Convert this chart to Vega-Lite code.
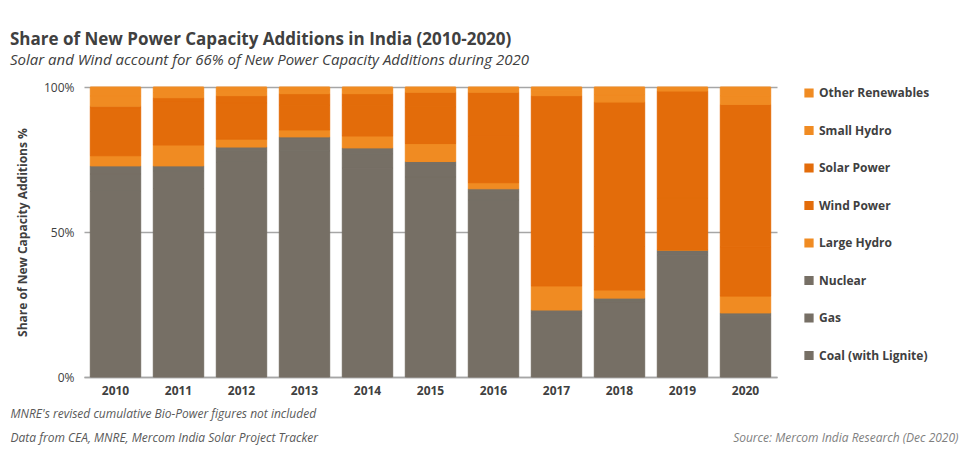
{
  "$schema": "https://vega.github.io/schema/vega-lite/v6.json",
  "width": 693,
  "height": 290,
  "autosize": "none",
  "padding": {"left": 84, "top": 87, "right": 198, "bottom": 83},
  "background": "white",
  "title": {
    "text": "Share of New Power Capacity Additions in India (2010-2020)",
    "subtitle": "Solar and Wind account for 66% of New Power Capacity Additions during 2020",
    "anchor": "start",
    "frame": "group",
    "dx": -74,
    "offset": 12,
    "font": "Open Sans",
    "fontSize": 17,
    "fontWeight": "bold",
    "color": "#404040",
    "subtitleFont": "Open Sans",
    "subtitleFontSize": 15,
    "subtitleFontStyle": "italic",
    "subtitleColor": "#404040",
    "subtitlePadding": 4
  },
  "data": {
    "values": [
      {"year": "2010", "source": "Coal (with Lignite)", "o": 1, "v": 64},
      {"year": "2010", "source": "Gas", "o": 2, "v": 6},
      {"year": "2010", "source": "Nuclear", "o": 3, "v": 2.8},
      {"year": "2010", "source": "Large Hydro", "o": 4, "v": 3.5},
      {"year": "2010", "source": "Wind Power", "o": 5, "v": 16.6},
      {"year": "2010", "source": "Solar Power", "o": 6, "v": 0.5},
      {"year": "2010", "source": "Small Hydro", "o": 7, "v": 3.5},
      {"year": "2010", "source": "Other Renewables", "o": 8, "v": 3.1},
      {"year": "2011", "source": "Coal (with Lignite)", "o": 1, "v": 65},
      {"year": "2011", "source": "Gas", "o": 2, "v": 6},
      {"year": "2011", "source": "Nuclear", "o": 3, "v": 1.8},
      {"year": "2011", "source": "Large Hydro", "o": 4, "v": 7.2},
      {"year": "2011", "source": "Wind Power", "o": 5, "v": 15.3},
      {"year": "2011", "source": "Solar Power", "o": 6, "v": 1},
      {"year": "2011", "source": "Small Hydro", "o": 7, "v": 1.8},
      {"year": "2011", "source": "Other Renewables", "o": 8, "v": 1.9},
      {"year": "2012", "source": "Coal (with Lignite)", "o": 1, "v": 74},
      {"year": "2012", "source": "Gas", "o": 2, "v": 4},
      {"year": "2012", "source": "Nuclear", "o": 3, "v": 1.3},
      {"year": "2012", "source": "Large Hydro", "o": 4, "v": 2.7},
      {"year": "2012", "source": "Wind Power", "o": 5, "v": 12.5},
      {"year": "2012", "source": "Solar Power", "o": 6, "v": 2.5},
      {"year": "2012", "source": "Small Hydro", "o": 7, "v": 1.5},
      {"year": "2012", "source": "Other Renewables", "o": 8, "v": 1.5},
      {"year": "2013", "source": "Coal (with Lignite)", "o": 1, "v": 78},
      {"year": "2013", "source": "Gas", "o": 2, "v": 4},
      {"year": "2013", "source": "Nuclear", "o": 3, "v": 0.8},
      {"year": "2013", "source": "Large Hydro", "o": 4, "v": 2.4},
      {"year": "2013", "source": "Wind Power", "o": 5, "v": 8.5},
      {"year": "2013", "source": "Solar Power", "o": 6, "v": 4},
      {"year": "2013", "source": "Small Hydro", "o": 7, "v": 1.3},
      {"year": "2013", "source": "Other Renewables", "o": 8, "v": 1},
      {"year": "2014", "source": "Coal (with Lignite)", "o": 1, "v": 72},
      {"year": "2014", "source": "Gas", "o": 2, "v": 5},
      {"year": "2014", "source": "Nuclear", "o": 3, "v": 2},
      {"year": "2014", "source": "Large Hydro", "o": 4, "v": 4.1},
      {"year": "2014", "source": "Wind Power", "o": 5, "v": 10.6},
      {"year": "2014", "source": "Solar Power", "o": 6, "v": 4},
      {"year": "2014", "source": "Small Hydro", "o": 7, "v": 1.3},
      {"year": "2014", "source": "Other Renewables", "o": 8, "v": 1},
      {"year": "2015", "source": "Coal (with Lignite)", "o": 1, "v": 69},
      {"year": "2015", "source": "Gas", "o": 2, "v": 4},
      {"year": "2015", "source": "Nuclear", "o": 3, "v": 1.3},
      {"year": "2015", "source": "Large Hydro", "o": 4, "v": 6.2},
      {"year": "2015", "source": "Wind Power", "o": 5, "v": 12.7},
      {"year": "2015", "source": "Solar Power", "o": 6, "v": 5},
      {"year": "2015", "source": "Small Hydro", "o": 7, "v": 1},
      {"year": "2015", "source": "Other Renewables", "o": 8, "v": 0.8},
      {"year": "2016", "source": "Coal (with Lignite)", "o": 1, "v": 61},
      {"year": "2016", "source": "Gas", "o": 2, "v": 2.9},
      {"year": "2016", "source": "Nuclear", "o": 3, "v": 1},
      {"year": "2016", "source": "Large Hydro", "o": 4, "v": 2.1},
      {"year": "2016", "source": "Wind Power", "o": 5, "v": 16},
      {"year": "2016", "source": "Solar Power", "o": 6, "v": 15.2},
      {"year": "2016", "source": "Small Hydro", "o": 7, "v": 1},
      {"year": "2016", "source": "Other Renewables", "o": 8, "v": 0.8},
      {"year": "2017", "source": "Coal (with Lignite)", "o": 1, "v": 21},
      {"year": "2017", "source": "Gas", "o": 2, "v": 1.1},
      {"year": "2017", "source": "Nuclear", "o": 3, "v": 1},
      {"year": "2017", "source": "Large Hydro", "o": 4, "v": 8.3},
      {"year": "2017", "source": "Wind Power", "o": 5, "v": 18.6},
      {"year": "2017", "source": "Solar Power", "o": 6, "v": 47},
      {"year": "2017", "source": "Small Hydro", "o": 7, "v": 1.7},
      {"year": "2017", "source": "Other Renewables", "o": 8, "v": 1.3},
      {"year": "2018", "source": "Coal (with Lignite)", "o": 1, "v": 26},
      {"year": "2018", "source": "Gas", "o": 2, "v": 0.7},
      {"year": "2018", "source": "Nuclear", "o": 3, "v": 0.5},
      {"year": "2018", "source": "Large Hydro", "o": 4, "v": 2.8},
      {"year": "2018", "source": "Wind Power", "o": 5, "v": 15},
      {"year": "2018", "source": "Solar Power", "o": 6, "v": 49.8},
      {"year": "2018", "source": "Small Hydro", "o": 7, "v": 2.6},
      {"year": "2018", "source": "Other Renewables", "o": 8, "v": 2.6},
      {"year": "2019", "source": "Coal (with Lignite)", "o": 1, "v": 42},
      {"year": "2019", "source": "Gas", "o": 2, "v": 1},
      {"year": "2019", "source": "Nuclear", "o": 3, "v": 0.8},
      {"year": "2019", "source": "Large Hydro", "o": 4, "v": 0},
      {"year": "2019", "source": "Wind Power", "o": 5, "v": 17.8},
      {"year": "2019", "source": "Solar Power", "o": 6, "v": 37},
      {"year": "2019", "source": "Small Hydro", "o": 7, "v": 0.7},
      {"year": "2019", "source": "Other Renewables", "o": 8, "v": 0.7},
      {"year": "2020", "source": "Coal (with Lignite)", "o": 1, "v": 20},
      {"year": "2020", "source": "Gas", "o": 2, "v": 1.3},
      {"year": "2020", "source": "Nuclear", "o": 3, "v": 0.8},
      {"year": "2020", "source": "Large Hydro", "o": 4, "v": 5.8},
      {"year": "2020", "source": "Wind Power", "o": 5, "v": 17},
      {"year": "2020", "source": "Solar Power", "o": 6, "v": 49.1},
      {"year": "2020", "source": "Small Hydro", "o": 7, "v": 3},
      {"year": "2020", "source": "Other Renewables", "o": 8, "v": 3}
    ]
  },
  "layer": [
    {
      "mark": {"type": "bar", "strokeWidth": 1},
      "encoding": {
        "x": {
          "field": "year", "type": "nominal",
          "scale": {"paddingInner": 0.2, "paddingOuter": 0.1},
          "axis": {
            "orient": "bottom",
            "labelAngle": 0, "labelFont": "Open Sans", "labelFontSize": 12, "labelFontWeight": "bold",
            "labelColor": "#404040", "ticks": false, "domain": true, "domainColor": "#a6a6a6", "domainWidth": 1.5,
            "labelPadding": 8,
            "title": ["MNRE's revised cumulative Bio-Power figures not included", "Data from CEA, MNRE, Mercom India Solar Project Tracker"],
            "titleFont": "Open Sans", "titleFontSize": 12, "titleFontStyle": "italic", "titleFontWeight": "normal",
            "titleColor": "#595959", "titleAnchor": "start", "titleAlign": "left", "titleX": -74, "titleY": 31,
            "titleLineHeight": 24, "titleBaseline": "top"
          }
        },
        "y": {
          "field": "v", "type": "quantitative", "aggregate": "sum", "stack": "normalize",
          "scale": {"domain": [0, 1]},
          "axis": {
            "values": [0, 0.5, 1], "format": "%", "title": "Share of New Capacity Additions %",
            "titleFont": "Open Sans", "titleFontSize": 12, "titleColor": "#404040", "titlePadding": 14,
            "labelFont": "Open Sans", "labelFontSize": 12, "labelColor": "#404040",
            "ticks": false, "domain": false, "gridColor": "#a6a6a6", "gridWidth": 1.5, "labelPadding": 10
          }
        },
        "color": {
          "field": "source", "type": "nominal",
          "scale": {
            "domain": ["Other Renewables", "Small Hydro", "Solar Power", "Wind Power", "Large Hydro", "Nuclear", "Gas", "Coal (with Lignite)"],
            "range": ["#F08B22", "#F08B22", "#E36C0A", "#E36C0A", "#F08B22", "#766F65", "#766F65", "#766F65"]
          },
          "legend": {
            "title": null, "orient": "right", "symbolType": "square", "symbolSize": 60,
            "labelFont": "Open Sans", "labelFontSize": 12, "labelFontWeight": "bold", "labelColor": "#404040",
            "rowPadding": 23.5, "padding": 0, "offset": 26
          }
        },
        "stroke": {"field": "source", "type": "nominal", "legend": null,
          "scale": {
            "domain": ["Other Renewables", "Small Hydro", "Solar Power", "Wind Power", "Large Hydro", "Nuclear", "Gas", "Coal (with Lignite)"],
            "range": ["#F08B22", "#F08B22", "#E36C0A", "#E36C0A", "#F08B22", "#766F65", "#766F65", "#766F65"]
          }
        },
        "order": {"field": "o", "type": "quantitative", "aggregate": "min"}
      }
    },
    {
      "mark": {"type": "rule", "opacity": 0},
      "encoding": {
        "x": {
          "field": "year", "type": "nominal",
          "axis": {
            "orient": "bottom",
            "labels": false, "ticks": false, "domain": false, "grid": false,
            "title": "Source: Mercom India Research (Dec 2020)",
            "titleFont": "Open Sans", "titleFontSize": 12, "titleFontStyle": "italic", "titleFontWeight": "normal",
            "titleColor": "#7f7f7f", "titleAnchor": null, "titleAlign": "right", "titleX": 874, "titleY": 55, "titleBaseline": "top"
          }
        }
      }
    }
  ],
  "resolve": {"scale": {"x": "independent"}, "axis": {"x": "independent"}},
  "config": {
    "view": {"stroke": null},
    "axisY": {"zindex": 0}
  }
}
